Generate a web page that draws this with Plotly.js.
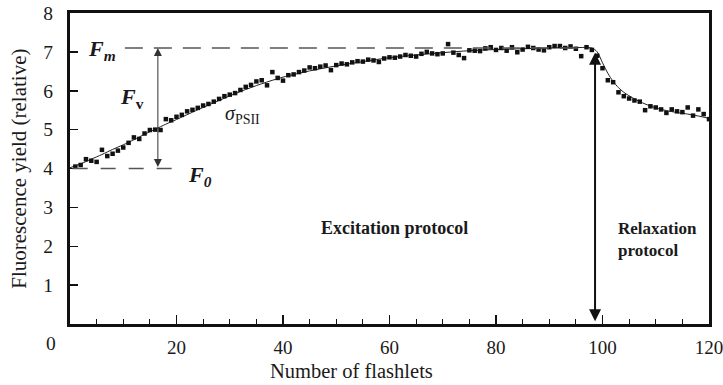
<!DOCTYPE html>
<html>
<head>
<meta charset="utf-8">
<script src="https://cdn.plot.ly/plotly-3.0.1.min.js"></script>
<style>
  html, body { margin: 0; padding: 0; background: #fff; }
  #chart { width: 723px; height: 385px; }
</style>
</head>
<body>
<div id="chart"></div>
<script>
// Flashlet number for each measured point
const flashlets = [
  1,2,3,4,5,6,7,8,9,10,11,12,13,14,15,16,17,18,19,20,
  21,22,23,24,25,26,27,28,29,30,31,32,33,34,35,36,37,38,39,40,
  41,42,43,44,45,46,47,48,49,50,51,52,53,54,55,56,57,58,59,60,
  61,62,63,64,65,66,67,68,69,70,71,72,73,74,75,76,77,78,79,80,
  81,82,83,84,85,86,87,88,89,90,91,92,93,94,95,96,97,98,
  99,100,101,102,103,104,105,106,107,108,109,110,111,112,113,114,115,116,117,118,119,120
];

// Measured fluorescence yield (relative)
const yieldMeasured = [
  4.05,4.09,4.24,4.20,4.17,4.48,4.32,4.38,4.46,4.54,4.66,4.80,4.76,4.90,4.99,5.00,4.99,5.27,5.24,5.33,
  5.38,5.47,5.51,5.56,5.62,5.66,5.72,5.79,5.86,5.90,5.94,6.02,6.10,6.15,6.24,6.27,6.14,6.48,6.33,6.26,
  6.40,6.42,6.48,6.52,6.60,6.58,6.62,6.65,6.53,6.66,6.70,6.68,6.73,6.76,6.75,6.80,6.78,6.74,6.83,6.86,
  6.85,6.88,6.92,6.90,6.88,6.95,7.00,6.96,6.94,6.96,7.20,6.98,6.92,6.84,7.04,7.03,7.02,7.09,7.12,7.05,
  7.10,7.03,7.12,6.99,7.06,7.13,7.10,7.06,7.04,7.12,7.15,7.15,7.10,7.14,7.08,6.89,7.12,7.05,
  6.90,6.58,6.27,6.22,5.96,5.86,5.80,5.75,5.72,5.50,5.60,5.57,5.52,5.43,5.52,5.47,5.45,5.57,5.36,5.52,5.40,5.27
];

// Fitted curve (excitation rise, then relaxation decay)
const fitFlashlets = [0,2,4,6,8,10,12,14,16,18,20,24,28,32,36,40,45,50,55,60,65,70,75,80,85,90,95,98,
  99,100,101,102,103,104,106,108,110,112,114,116,118,120];
const fitYield = [4.02,4.12,4.24,4.36,4.49,4.61,4.74,4.88,5.01,5.14,5.26,5.51,5.75,5.98,6.18,6.35,6.51,6.64,6.75,6.85,6.92,6.98,7.03,7.06,7.08,7.10,7.11,7.10,
  7.00,6.72,6.45,6.24,6.08,5.96,5.79,5.66,5.56,5.49,5.44,5.40,5.35,5.29];

// Reference levels and arrow positions
const levelF0 = 4.0;
const levelFm = 7.1;
const fvArrowAt = 16.5;
const protocolSplitAt = 98.6;

const xTickVals = [0, 20, 40, 60, 80, 100, 120];
const xTickText = ['', '20', '40', '60', '80', '100', '120'];
const yTickVals = [0, 1, 2, 3, 4, 5, 6, 7, 8];
const yTickText = ['', '1', '2', '3', '4', '5', '6', '7', '8'];

const serif = 'Liberation Serif, Times New Roman, serif';
const ink = '#1a1a1a';

const traces = [
  {
    x: fitFlashlets, y: fitYield,
    type: 'scatter', mode: 'lines',
    line: { color: '#222', width: 1, shape: 'spline', smoothing: 0.8 },
    hoverinfo: 'skip', showlegend: false
  },
  {
    x: flashlets, y: yieldMeasured,
    type: 'scatter', mode: 'markers',
    marker: { symbol: 'square', size: 4.5, color: '#111' },
    showlegend: false
  }
];

const layout = {
  width: 723, height: 385,
  margin: { l: 70, r: 14, t: 13, b: 61 },
  paper_bgcolor: '#fff', plot_bgcolor: '#fff',
  font: { family: serif, color: ink, size: 19 },
  xaxis: {
    range: [0, 120], tickmode: 'array', tickvals: xTickVals, ticktext: xTickText,
    ticks: 'inside', ticklen: 9, tickwidth: 1.5, tickcolor: '#111',
    minor: { dtick: 5, tick0: 0, ticks: 'inside', ticklen: 5, tickwidth: 1, tickcolor: '#111', showgrid: false },
    showline: true, linewidth: 3, linecolor: '#111', mirror: true,
    showgrid: false, zeroline: false, ticklabelstandoff: 4, ticklabeloverflow: 'allow',
    tickfont: { family: serif, size: 19, color: ink }
  },
  yaxis: {
    range: [0, 8], tickmode: 'array', tickvals: yTickVals, ticktext: yTickText,
    ticks: 'inside', ticklen: 8, tickwidth: 1.5, tickcolor: '#111',
    showline: true, linewidth: 3, linecolor: '#111', mirror: true,
    showgrid: false, zeroline: false, ticklabelstandoff: 10,
    tickfont: { family: serif, size: 19.5, color: ink }
  },
  shapes: [
    // Fm level
    { type: 'line', xref: 'x', yref: 'y', x0: 10.3, x1: protocolSplitAt - 1, y0: levelFm, y1: levelFm,
      line: { color: '#555', width: 1.5, dash: '18px,11px' } },
    // F0 level
    { type: 'line', xref: 'x', yref: 'y', x0: 0.5, x1: 20, y0: levelF0, y1: levelF0,
      line: { color: '#555', width: 1.5, dash: '15px,13px' } }
  ],
  annotations: [
    // origin label shared by both axes
    { text: '0', xref: 'paper', yref: 'paper', x: -0.030, y: -0.064, xanchor: 'center', yanchor: 'middle',
      showarrow: false, font: { family: serif, size: 19.5, color: ink } },
    // axis titles
    { text: 'Number of flashlets', xref: 'paper', yref: 'paper', x: 0.441, y: -0.152,
      xanchor: 'center', yanchor: 'middle', showarrow: false,
      font: { family: serif, size: 20.5, color: ink } },
    { text: 'Fluorescence yield (relative)', xref: 'paper', yref: 'paper', x: -0.081, y: 0.5,
      textangle: -90, xanchor: 'center', yanchor: 'middle', showarrow: false,
      font: { family: serif, size: 21, color: ink } },
    // Fv arrow
    { x: fvArrowAt, y: levelFm, ax: fvArrowAt, ay: levelF0, xref: 'x', yref: 'y', axref: 'x', ayref: 'y',
      text: '', showarrow: true, arrowhead: 2, arrowside: 'end+start', arrowsize: 1.6, arrowwidth: 1,
      arrowcolor: '#333', standoff: 0, startstandoff: 0 },
    // protocol divider arrow
    { x: protocolSplitAt, y: 6.98, ax: protocolSplitAt, ay: 0.03, xref: 'x', yref: 'y', axref: 'x', ayref: 'y',
      text: '', showarrow: true, arrowhead: 2, arrowside: 'end+start', arrowsize: 1.2, arrowwidth: 2,
      arrowcolor: '#111', standoff: 0, startstandoff: 0 },
    // level labels
    { text: '<b><i>F</i></b><sub><b><i>m</i></b></sub>', x: 6.1, y: 7.05, xref: 'x', yref: 'y',
      xanchor: 'center', yanchor: 'middle', showarrow: false, font: { family: serif, size: 22, color: ink } },
    { text: '<b><i>F</i></b><sub><b>v</b></sub>', x: 11.6, y: 5.82, xref: 'x', yref: 'y',
      xanchor: 'center', yanchor: 'middle', showarrow: false, font: { family: serif, size: 22, color: ink } },
    { text: '<b><i>F</i></b><sub><b><i>0</i></b></sub>', x: 24.5, y: 3.82, xref: 'x', yref: 'y',
      xanchor: 'center', yanchor: 'middle', showarrow: false, font: { family: serif, size: 22, color: ink } },
    { text: '<i>σ</i><sub>PSII</sub>', x: 32.3, y: 5.38, xref: 'x', yref: 'y',
      xanchor: 'center', yanchor: 'middle', showarrow: false, font: { family: serif, size: 20, color: ink } },
    // protocol labels
    { text: '<b>Excitation protocol</b>', x: 61, y: 2.47, xref: 'x', yref: 'y',
      xanchor: 'center', yanchor: 'middle', showarrow: false, font: { family: serif, size: 18, color: ink } },
    { text: '<b>Relaxation<br>protocol</b>', x: 102.5, y: 2.74, xref: 'x', yref: 'y',
      xanchor: 'left', yanchor: 'top', showarrow: false, align: 'left',
      font: { family: serif, size: 17, color: ink } }
  ]
};

Plotly.newPlot('chart', traces, layout, { displayModeBar: false, staticPlot: true });
</script>
</body>
</html>
